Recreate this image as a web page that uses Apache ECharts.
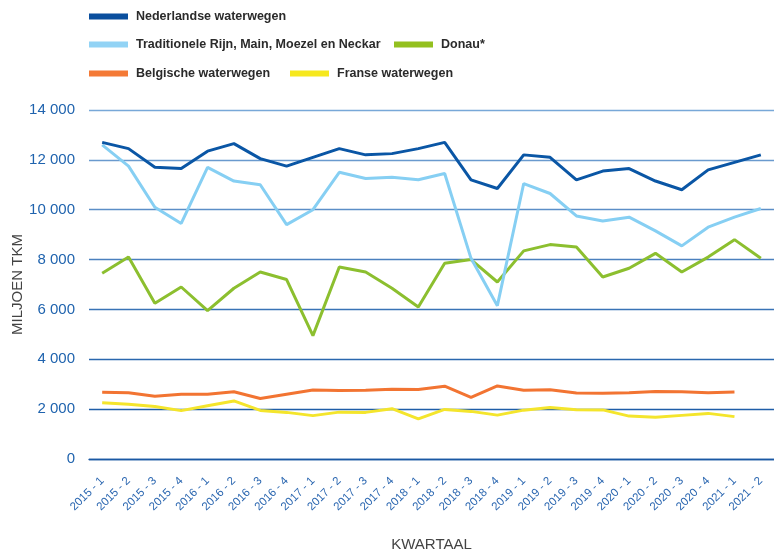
<!DOCTYPE html>
<html><head><meta charset="utf-8">
<script src="https://cdn.jsdelivr.net/npm/echarts@6/dist/echarts.min.js"></script>
<style>html,body{margin:0;padding:0;background:#fff}#c{width:774px;height:551px}</style>
</head><body><div id="c"></div>
<script>
const categories = ['2015 - 1','2015 - 2','2015 - 3','2015 - 4','2016 - 1','2016 - 2','2016 - 3','2016 - 4','2017 - 1','2017 - 2','2017 - 3','2017 - 4','2018 - 1','2018 - 2','2018 - 3','2018 - 4','2019 - 1','2019 - 2','2019 - 3','2019 - 4','2020 - 1','2020 - 2','2020 - 3','2020 - 4','2021 - 1','2021 - 2'];
const nederlandse = [12700,12450,11700,11650,12350,12650,12050,11750,12100,12450,12200,12250,12450,12700,11200,10850,12200,12100,11200,11550,11650,11150,10800,11600,11900,12200];
const traditionele = [12600,11750,10100,9450,11700,11150,11000,9400,10000,11500,11250,11300,11200,11450,8050,6150,11050,10650,9750,9550,9700,9150,8550,9300,9700,10050];
const donau = [7450,8100,6250,6900,5950,6850,7500,7200,4950,7700,7500,6850,6100,7850,8000,7100,8350,8600,8500,7300,7650,8250,7500,8100,8800,8050];
const belgische = [2680,2660,2520,2600,2600,2700,2430,2600,2770,2750,2760,2800,2790,2920,2470,2930,2760,2780,2650,2640,2660,2710,2700,2660,2690,null];
const franse = [2260,2200,2110,1940,2140,2330,1950,1870,1740,1880,1870,2020,1610,1990,1910,1760,1960,2070,1980,1970,1720,1670,1750,1830,1700,null];
const names = ['Nederlandse waterwegen','Traditionele Rijn, Main, Moezel en Neckar','Donau*','Belgische waterwegen','Franse waterwegen'];
const colors = ['#0a56a5','#86cff3','#8cbf2f','#f27432','#f4e52c'];
const legendColors = ['#0a4f9e','#92d3f5','#93c01f','#f47a36','#f6e81e'];
const yTicks = [0,2000,4000,6000,8000,10000,12000,14000];

const font = "'Liberation Sans',Arial,sans-serif";
const legendPos = [[89,10],[89,38],[394,38],[89,67],[290,67]];
const seriesData = [nederlandse, traditionele, donau, belgische, franse];

const chart = echarts.init(document.getElementById('c'), null, {renderer:'canvas'});
chart.setOption({
  animation:false,
  color: colors,
  legend: names.map((n,i)=>({
    data:[{name:n, itemStyle:{color:legendColors[i]}}],
    left:legendPos[i][0], top:legendPos[i][1], padding:0,
    icon:'rect', itemWidth:39, itemHeight:6, itemGap:0,
    textStyle:{fontFamily:font, fontWeight:'bold', fontSize:12.5, color:'#2b2b2b', padding:[0,0,0,3]},
    selectedMode:false
  })),
  grid:{left:89, right:0, top:110, bottom:92, outerBoundsMode:'none'},
  xAxis:{
    type:'category', data:categories, boundaryGap:true,
    axisLine:{show:true, lineStyle:{color:'#1a58a4', width:1.3}},
    axisTick:{show:false},
    axisLabel:{rotate:45, color:'#2a66b0', fontSize:11.5, fontFamily:font, margin:20, interval:0},
    name:'KWARTAAL', nameLocation:'middle', nameGap:78, nameMoveOverlap:false,
    nameTextStyle:{color:'#444', fontSize:15, fontFamily:font}
  },
  yAxis:{
    type:'value', min:yTicks[0], max:yTicks[yTicks.length-1], interval:2000,
    axisLine:{show:false}, axisTick:{show:false},
    splitLine:{show:true, lineStyle:{width:1.3, color:['#1a58a4','#1f5ea8','#2a67ae','#3873b6','#4a80be','#5b8ec7','#6a9ace','#78a8d8']}},
    axisLabel:{color:'#1f63ae', fontSize:15, fontFamily:font, margin:14,
      formatter:v=>String(v).replace(/\B(?=(\d{3})+(?!\d))/g,' ')},
    name:'MILJOEN TKM', nameLocation:'middle', nameGap:64, nameMoveOverlap:false,
    nameTextStyle:{color:'#444', fontSize:15, fontFamily:font}
  },
  series: names.map((n,i)=>({
    name:n, type:'line', data:seriesData[i], symbol:'none', z: 10-i,
    lineStyle:{width:3, color:colors[i]}, itemStyle:{color:colors[i]}
  }))
});
</script></body></html>
